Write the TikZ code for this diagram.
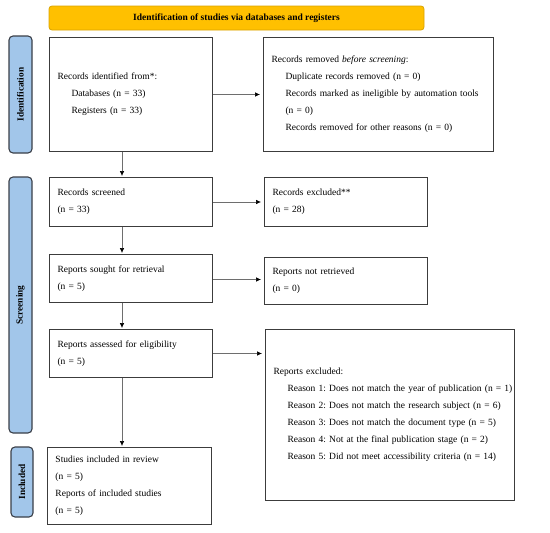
\documentclass[tikz,border=0pt]{standalone}
\usepackage{fontspec}
\setmainfont{Liberation Serif}
\usetikzlibrary{arrows.meta,calc}
\definecolor{bannerfill}{HTML}{FFC000}
\definecolor{bannerdraw}{HTML}{D9A300}
\definecolor{sidefill}{HTML}{A2C6EA}
\definecolor{sidedraw}{HTML}{3A3F48}
\definecolor{boxdraw}{HTML}{3C3C3C}
\definecolor{arrgray}{HTML}{6E6E6E}
\frenchspacing
\hbadness=10000 \hfuzz=50pt
\begin{document}
\begin{tikzpicture}[x=1pt,y=-1pt,
  box/.style={draw=boxdraw,line width=1pt,anchor=north west,align=left,
    inner xsep=8pt,inner ysep=0pt,font=\frenchspacing\fontsize{9.5}{17}\selectfont},
  side/.style={draw=sidedraw,fill=sidefill,line width=1.1pt,rounded corners=4pt,
    rotate=90,inner sep=0pt,font=\bfseries\fontsize{9.3}{10}\selectfont},
  arr/.style={draw=arrgray,line width=0.6pt,
    -{Latex[length=5pt,width=4.5pt,color=black]},shorten >=3pt}]
\useasboundingbox (0,0) rectangle (550,533);
% banner
\node[draw=bannerdraw,fill=bannerfill,line width=0.8pt,rounded corners=3pt,
  minimum width=375pt,minimum height=24pt,inner sep=0pt,
  font=\bfseries\fontsize{9.5}{10}\selectfont] (banner) at (236.5,18)
  {Identification of studies via databases and registers};
% side labels
\node[side,minimum width=117pt,minimum height=23pt] (lid) at (20.5,94.5) {Identification};
\node[side,minimum width=256pt,minimum height=23pt] (lscr) at (20.5,305) {Screening};
\node[side,minimum width=70pt,minimum height=22pt] (linc) at (22,482) {Included};
% boxes
\node[box,minimum width=163pt,minimum height=114pt,text width=147pt] (ident) at (49,37)
  {Records identified from*:\\ \hspace*{14pt}Databases (n = 33)\\ \hspace*{14pt}Registers (n = 33)};
\node[box,minimum width=230pt,minimum height=114pt,text width=214pt] (removed) at (263,37)
  {Records removed \textit{before screening}:\\
   \hspace*{14pt}Duplicate records removed (n = 0)\\
   \hspace*{14pt}Records marked as ineligible by automation tools\\
   \hspace*{14pt}(n = 0)\\
   \hspace*{14pt}Records removed for other reasons (n = 0)};
\node[box,minimum width=163pt,minimum height=49pt,text width=147pt] (screened) at (49,177)
  {Records screened\\(n = 33)};
\node[box,minimum width=163pt,minimum height=49pt,text width=147pt] (excluded) at (264,177)
  {Records excluded**\\(n = 28)};
\node[box,minimum width=163pt,minimum height=48pt,text width=147pt] (sought) at (49,254)
  {Reports sought for retrieval\\(n = 5)};
\node[box,minimum width=163pt,minimum height=47pt,text width=147pt] (notret) at (264,257)
  {Reports not retrieved\\(n = 0)};
\node[box,minimum width=163pt,minimum height=48pt,text width=147pt] (assessed) at (49,329)
  {Reports assessed for eligibility\\(n = 5)};
\node[box,minimum width=249pt,minimum height=171pt,text width=233pt] (repexc) at (265,329)
  {Reports excluded:\\
   \hspace*{14pt}\mbox{Reason 1: Does not match the year of publication (n = 1)}\\
   \hspace*{14pt}Reason 2: Does not match the research subject (n = 6)\\
   \hspace*{14pt}Reason 3: Does not match the document type (n = 5)\\
   \hspace*{14pt}Reason 4: Not at the final publication stage (n = 2)\\
   \hspace*{14pt}Reason 5: Did not meet accessibility criteria (n = 14)};
\node[box,minimum width=164pt,minimum height=77pt,text width=148pt] (included) at (47,447)
  {Studies included in review\\(n = 5)\\Reports of included studies\\(n = 5)};
% horizontal arrows
\draw[arr] (ident.east) -- (ident.east -| removed.west);
\draw[arr] (screened.east) -- (screened.east -| excluded.west);
\draw[arr] ([yshift=-1pt]sought.east) -- ([yshift=-1pt]sought.east -| notret.west);
\draw[arr] (assessed.east) -- (assessed.east -| repexc.west);
% vertical arrows
\draw[arr,shorten >=1pt] ([xshift=73pt]ident.south west) -- ([xshift=73pt]ident.south west |- screened.north);
\draw[arr,shorten >=1pt] ([xshift=73pt]screened.south west) -- ([xshift=73pt]screened.south west |- sought.north);
\draw[arr,shorten >=1pt] ([xshift=73pt]sought.south west) -- ([xshift=73pt]sought.south west |- assessed.north);
\draw[arr,shorten >=1pt] ([xshift=73pt]assessed.south west) -- ([xshift=73pt]assessed.south west |- included.north);
\end{tikzpicture}
\end{document}
